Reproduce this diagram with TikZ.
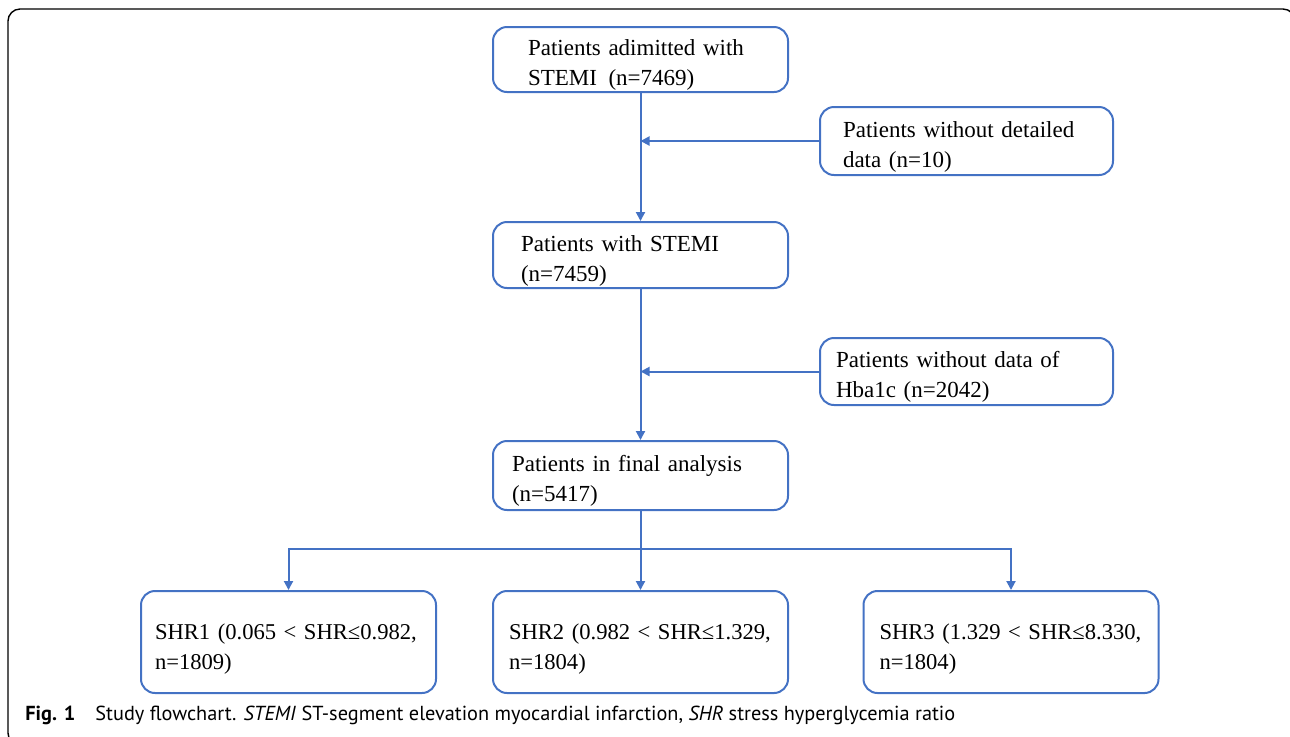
\documentclass[tikz,border=0pt]{standalone}
\usepackage{fontspec}
\setmainfont{Liberation Serif}
\newfontfamily\capfont{PT Sans}
\usetikzlibrary{arrows.meta}
\definecolor{flowblue}{HTML}{4472C4}

\begin{document}
\begin{tikzpicture}[x=0.5pt,y=-0.5pt]
    \tikzstyle{box}=[draw=flowblue, line width=1pt, rounded corners=7pt, align=left,
        font=\fontsize{11.5}{15}\selectfont, inner ysep=0pt, text height=13.5pt,
        inner xsep=#1, text width=147.5pt-2*#1]
    \tikzstyle{group}=[minimum height=51pt, text height=14.5pt, font=\fontsize{11.3}{15}\selectfont]
    \tikzstyle{link}=[flowblue, line width=1pt]
    \tikzstyle{arrow}=[link, -{Triangle[length=4.5pt,width=4.5pt]}]

    \useasboundingbox (0,0) rectangle (1290,736);

    % Outer frame
    \begin{scope}
        \clip (0,0) rectangle (1290,736);
        \draw[line width=0.7pt, rounded corners=6pt] (8,9) rectangle (1295,745);
    \end{scope}

    % Main column
    \node[box=17.5pt, minimum height=32.5pt] (adm) at (640.5,59.5) {Patients adimitted with\\STEMI\enspace(n=7469)};
    \node[box=14pt, minimum height=33pt] (stemi) at (640.5,255) {Patients with STEMI\\(n=7459)};
    \node[box=9.5pt, minimum height=34.5pt] (final) at (640.5,475.5) {Patients in final analysis\\(n=5417)};

    % Exclusions
    \node[box=11.5pt, text width=123.5pt, minimum height=34pt] (exclA) at (966.5,141) {Patients without detailed\\data (n=10)};
    \node[box=8pt, text width=130.5pt, minimum height=33.5pt] (exclB) at (966.5,371.5) {Patients without data of\\Hba1c (n=2042)};

    % Groups
    \node[box=7pt, group] (shrA) at (288.5,642) {SHR1 (0.065 < SHR≤0.982,\\n=1809)};
    \node[box=8pt, group] (shrB) at (640.5,642) {SHR2 (0.982 < SHR≤1.329,\\n=1804)};
    \node[box=8pt, group] (shrC) at (1011,642) {SHR3 (1.329 < SHR≤8.330,\\n=1804)};

    % Connectors
    \draw[arrow] (adm) -- (stemi);
    \draw[arrow] (stemi) -- (final);
    \draw[arrow] (exclA.west) -- (exclA.west -| adm.south);
    \draw[arrow] (exclB.west) -- (exclB.west -| stemi.south);

    \coordinate (split) at (640.5,549);
    \draw[link] (final) -- (split);
    \foreach \g in {shrA,shrB,shrC} {
        \draw[arrow] (split) -| (\g.north);
    }

    % Caption
    \node[anchor=base west, inner sep=0pt, font=\capfont\fontsize{10.15}{12}\selectfont] (cap) at (25,720)
        {\textbf{Fig. 1}\hspace{10pt}Study flowchart. \textit{STEMI} ST-segment elevation myocardial infarction, \textit{SHR} stress hyperglycemia ratio};
\end{tikzpicture}
\end{document}
